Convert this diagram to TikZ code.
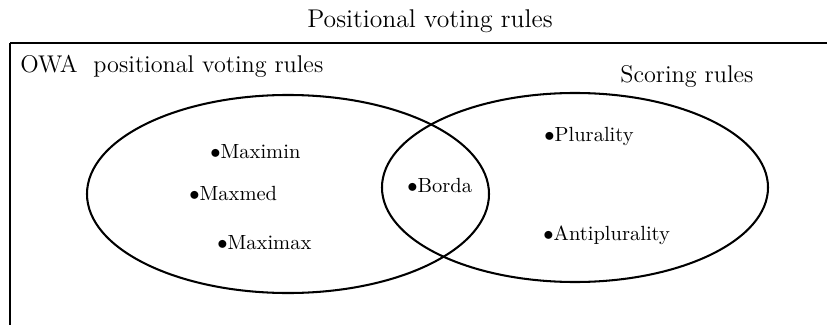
\documentclass[tikz,border=0pt]{standalone}
\usetikzlibrary{shapes.geometric}
\begin{document}
\begin{tikzpicture}[x=0.4878pt,y=-0.4878pt,
  outline/.style={line width=1pt},
  venn/.style={draw,ellipse,line width=1pt,inner sep=0pt,outer sep=0pt},
  item/.style={inner sep=0pt,anchor=base west,font=\fontsize{10}{12}\selectfont},
  lbl/.style={inner sep=0pt,anchor=base west,font=\fontsize{11.8}{14}\selectfont},
  ttl/.style={inner sep=0pt,anchor=base,font=\fontsize{12.5}{15}\selectfont}]
\useasboundingbox (0,0) rectangle (827,325);
\draw[outline] (10,43) -- (10,345) (10,43) -- (845,43);
\node[ttl] (title) at (430,28) {Positional voting rules};
\node[venn,minimum width=196.1pt,minimum height=96.6pt] (owa) at (288,194) {};
\node[venn,minimum width=188.3pt,minimum height=92.2pt] (scoring) at (575,187.5) {};
\node[lbl] (owalbl) at (20,73) {OWA\ \ positional voting rules};
\node[lbl] (sclbl) at (620,82) {Scoring rules};
\node[item] (maximin) at (210,158) {$\bullet$Maximin};
\node[item] (maxmed) at (189,200) {$\bullet$Maxmed};
\node[item] (maximax) at (217,249) {$\bullet$Maximax};
\node[item] (borda) at (407,192) {$\bullet$Borda};
\node[item] (plurality) at (544,141) {$\bullet$Plurality};
\node[item] (antiplurality) at (543,240) {$\bullet$Antiplurality};
\end{tikzpicture}
\end{document}
